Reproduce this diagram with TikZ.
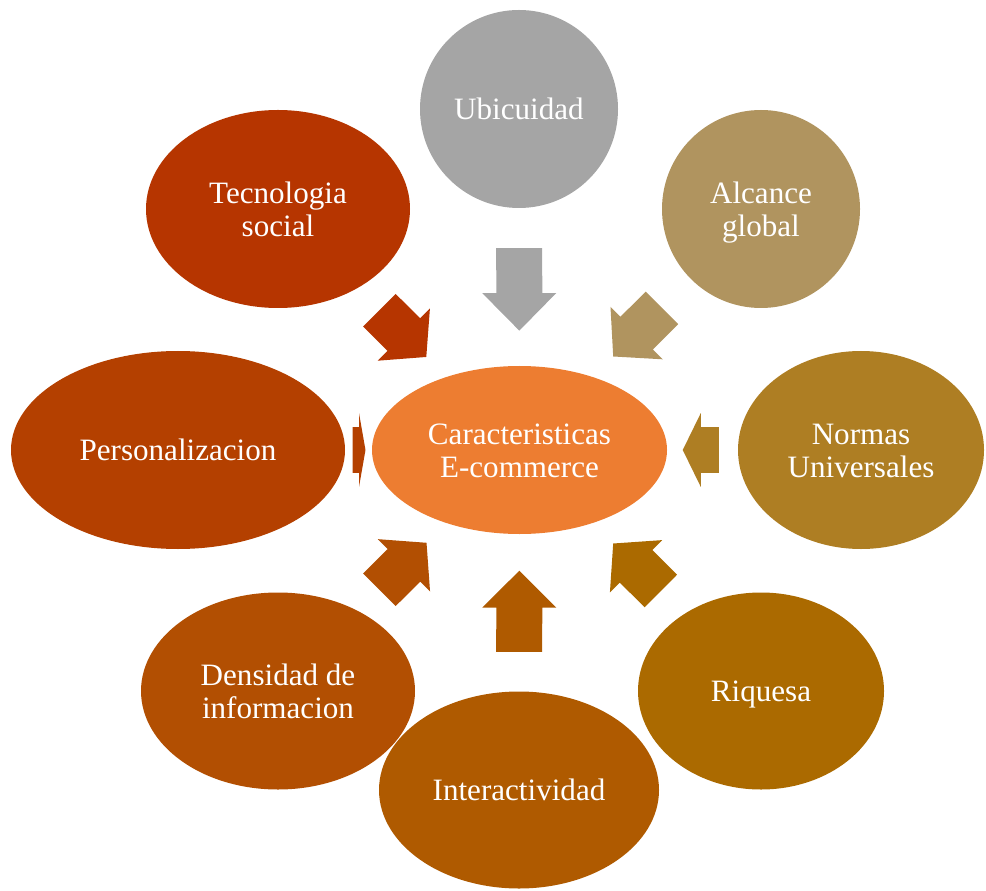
\documentclass[tikz,border=0pt]{standalone}
\usepackage{fontspec}
\setmainfont{Liberation Serif}
\usetikzlibrary{shapes.geometric,calc}

\definecolor{cencol}{HTML}{ED7D31}
\definecolor{ubicol}{HTML}{A5A5A5}
\definecolor{alccol}{HTML}{B0945F}
\definecolor{norcol}{HTML}{AE7E23}
\definecolor{riqcol}{HTML}{AB6A00}
\definecolor{intcol}{HTML}{AF5A00}
\definecolor{dencol}{HTML}{B24F02}
\definecolor{percol}{HTML}{B44000}
\definecolor{teccol}{HTML}{B63500}

\tikzset{
  bubble/.style={ellipse, draw=none, text=white, align=center, inner sep=0pt,
    font=\fontsize{17.7}{19}\selectfont,
    execute at begin node=\rule{0pt}{16.1pt}, execute at end node=\rule[-4pt]{0pt}{4pt}},
  twoline/.style={execute at begin node=\rule{0pt}{35.6pt}},
  wh/.style 2 args={minimum width=#1*0.02cm, minimum height=#2*0.02cm}
}

% colour, from, to, tail, tip, head part
\newcommand\blockarrow[6]{%
  \path ($(#2)!#4!(#3)$) coordinate (bt);
  \path ($(#2)!#5!(#3)$) coordinate (bh);
  \path ($(bh)!#6!(bt)$) coordinate (bb);
  \fill[#1] ($(bt)!0.46cm!90:(bh)$) -- ($(bb)!0.46cm!90:(bh)$) -- ($(bb)!0.74cm!90:(bh)$)
    -- (bh) -- ($(bb)!0.74cm!-90:(bh)$) -- ($(bb)!0.46cm!-90:(bh)$) -- ($(bt)!0.46cm!-90:(bh)$) -- cycle;
}

\begin{document}
\begin{tikzpicture}[x=0.02cm, y=-0.02cm]
    \useasboundingbox (0,0) rectangle (986,891);

    \node[bubble, twoline, wh={295}{168}, fill=cencol] (cen) at (519.5,450) {Caracteristicas\\E-commerce};
    \node[bubble, wh={198}{198}, fill=ubicol] (ubi) at (519,109) {Ubicuidad};
    \node[bubble, twoline, wh={198}{198}, fill=alccol] (alc) at (761,209) {Alcance\\global};
    \node[bubble, twoline, wh={246}{198}, fill=norcol] (nor) at (861,450) {Normas\\Universales};
    \node[bubble, wh={246}{197}, fill=riqcol] (riq) at (761,691) {Riquesa};
    \node[bubble, wh={280}{197}, fill=intcol] (int) at (519,790) {Interactividad};
    \node[bubble, twoline, wh={274}{197}, fill=dencol] (den) at (278,691) {Densidad de\\informacion};
    \node[bubble, wh={334}{198}, fill=percol] (per) at (178,450) {Personalizacion};
    \node[bubble, twoline, wh={264}{198}, fill=teccol] (tec) at (278,209) {Tecnologia\\social};

    \blockarrow{ubicol}{ubi}{cen}{0.408}{0.650}{0.455}
    \blockarrow{alccol}{alc}{cen}{0.410}{0.612}{0.48}
    \blockarrow{norcol}{nor}{cen}{0.416}{0.522}{0.5}
    \blockarrow{riqcol}{riq}{cen}{0.415}{0.612}{0.48}
    \blockarrow{intcol}{int}{cen}{0.406}{0.645}{0.455}
    \blockarrow{dencol}{den}{cen}{0.420}{0.615}{0.48}
    \blockarrow{percol}{per}{cen}{0.511}{0.549}{0.5}
    \blockarrow{teccol}{tec}{cen}{0.420}{0.614}{0.48}
\end{tikzpicture}
\end{document}
